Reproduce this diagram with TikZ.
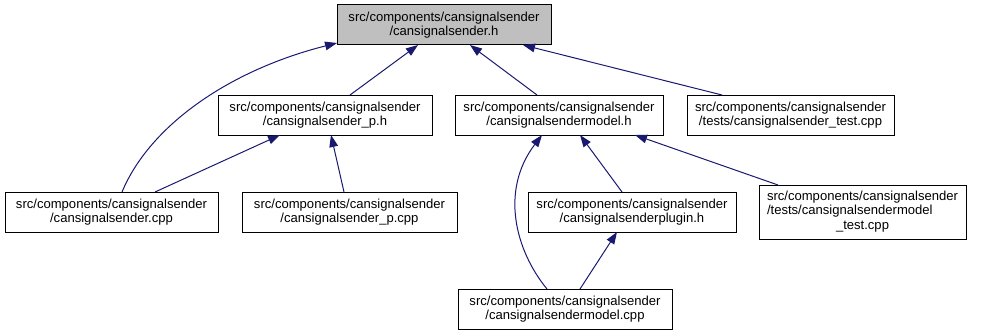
\documentclass[tikz,border=0pt]{standalone}
\usepackage{fontspec}
\setmainfont{Liberation Sans}
\usetikzlibrary{arrows.meta,calc}
\definecolor{edgeblue}{HTML}{191970}
\definecolor{rootfill}{HTML}{BFBFBF}
\begin{document}
\begin{tikzpicture}[x=0.75pt,y=-0.75pt,
  filebox/.style={draw=black,line width=0.75pt,fill=white,inner sep=0pt,
    align=center,minimum height=30pt,
    font=\fontsize{9.8pt}{10.75pt}\selectfont},
  rootbox/.style={filebox,fill=rootfill},
  dep/.style={draw=edgeblue,line width=0.75pt,
    -{Triangle[length=9pt,width=6.5pt]},edgeblue}]
\useasboundingbox (0,0) rectangle (987,335);

% header and its includers
\node[rootbox,minimum width=160.5pt] (root) at (444,25)
  {src/components/cansignalsender\\/cansignalsender.h};
\node[filebox,minimum width=160.5pt] (ph) at (325,115)
  {src/components/cansignalsender\\/cansignalsender\_p.h};
\node[filebox,minimum width=156pt] (mh) at (559,115)
  {src/components/cansignalsender\\/cansignalsendermodel.h};
\node[filebox,minimum width=155.25pt] (tc) at (790.5,115)
  {src/components/cansignalsender\\/tests/cansignalsender\_test.cpp};
\node[filebox,minimum width=159.75pt] (cpp) at (111.5,212)
  {src/components/cansignalsender\\/cansignalsender.cpp};
\node[filebox,minimum width=161.25pt] (pcpp) at (349.5,212)
  {src/components/cansignalsender\\/cansignalsender\_p.cpp};
\node[filebox,minimum width=156pt] (plug) at (632,212)
  {src/components/cansignalsender\\/cansignalsenderplugin.h};
\node[filebox,minimum width=155.25pt,minimum height=40.5pt] (mt) at (862.5,212)
  {\renewcommand{\arraystretch}{1}\begin{tabular}{@{}l@{}}
   src/components/cansignalsender\\/tests/cansignalsendermodel\\
   \multicolumn{1}{@{}c@{}}{\_test.cpp}\end{tabular}};
\node[filebox,minimum width=160.5pt] (mc) at (565,309)
  {src/components/cansignalsender\\/cansignalsendermodel.cpp};

% include edges
\draw[dep] ($(cpp)+(10.5,-20)$) .. controls +(28,-67) and +(-107,27) .. ($(root)+(-107,18)$);
\draw[dep] ($(ph)+(25,-20)$) -- ($(root)+(-26,20)$);
\draw[dep] ($(mh)+(-22,-20)$) -- ($(root)+(26,20)$);
\draw[dep] ($(tc)+(-68.5,-20)$) -- ($(root)+(79,20)$);
\draw[dep] ($(cpp)+(43.5,-20)$) -- ($(ph)+(-45,20)$);
\draw[dep] ($(pcpp)+(-5.5,-20)$) -- ($(ph)+(6,20)$);
\draw[dep] ($(mc)+(-18,-20)$) .. controls +(-32,-39) and +(-42,55) .. ($(mh)+(-17,20)$);
\draw[dep] ($(plug)+(-10,-20)$) -- ($(mh)+(21,20)$);
\draw[dep] ($(mt)+(-84.5,-27)$) -- ($(mh)+(76,20)$);
\draw[dep] ($(mc)+(15,-20)$) -- ($(plug)+(-15,20)$);
\end{tikzpicture}
\end{document}
